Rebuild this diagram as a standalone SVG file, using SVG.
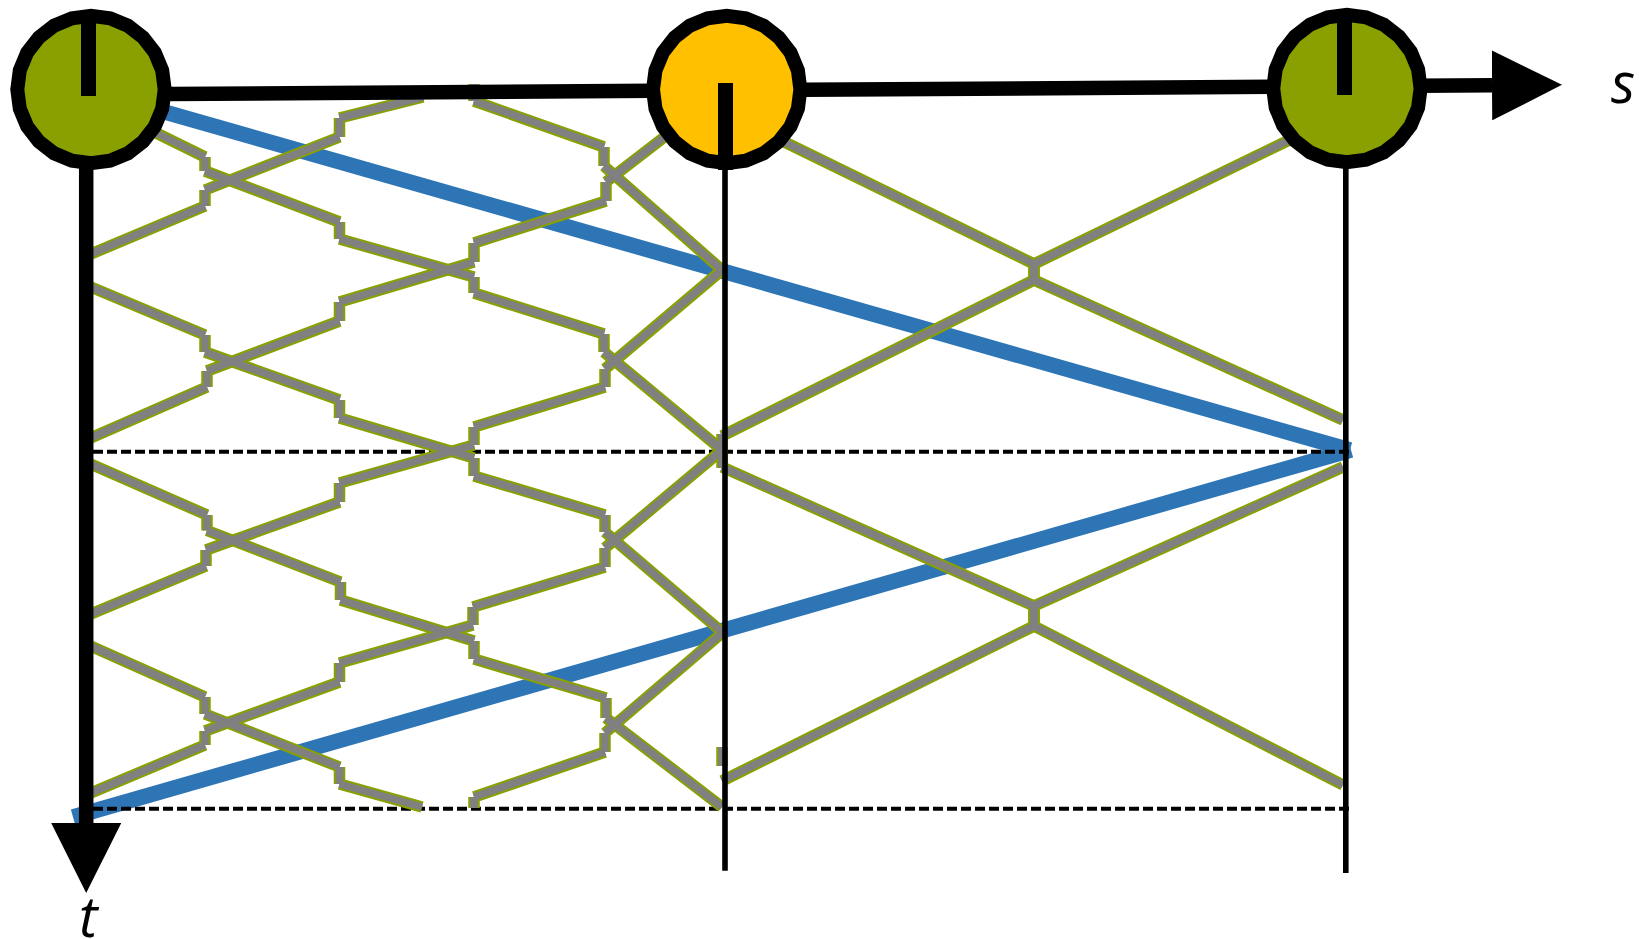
<svg xmlns="http://www.w3.org/2000/svg" xmlns:xlink="http://www.w3.org/1999/xlink" width="1639" height="939" viewBox="0 0 1639 939">
<style>
.bg{fill:#fff}
.blue{fill:none;stroke:#2e75b6;stroke-width:15.5}
.dash{fill:none;stroke:#000;stroke-width:4;stroke-dasharray:10 4}
.ol{fill:none;stroke:#8aa000;stroke-width:11.5}
.gr{fill:none;stroke:#808080;stroke-width:7.5}
.ax{fill:none;stroke:#000;stroke-width:14.5}
.thin{fill:none;stroke:#000;stroke-width:5.6}
.nd{stroke:#000;stroke-width:14}
.tick{fill:#000}
.lbl{font-family:"Open Sans","Noto Sans",sans-serif;font-style:italic;font-size:56px;fill:#000}
</style>
<defs>
<marker id="head" markerUnits="userSpaceOnUse" markerWidth="70" markerHeight="70" refX="0" refY="35" orient="auto" viewBox="0 0 70 70"><path d="M0 0L70 35L0 70Z" fill="#000"/></marker>
<polygon id="disc" points="73.7,0 71.2,19.1 63.8,36.9 52.1,52.1 36.9,63.8 19.1,71.2 0,73.7 -19.1,71.2 -36.9,63.8 -52.1,52.1 -63.8,36.9 -71.2,19.1 -73.7,0 -71.2,-19.1 -63.8,-36.9 -52.1,-52.1 -36.9,-63.8 -19.1,-71.2 0,-73.7 19.1,-71.2 36.9,-63.8 52.1,-52.1 63.8,-36.9 71.2,-19.1"/>
<g id="rays">
<path d="M86 256L205 206M205 206L205 190M205 190L339.5 137M339.5 137L339.5 118M339.5 118L423 97"/>
<path d="M86 440L207 387M207 387L207 371M207 371L339.5 321M339.5 321L339.5 302M339.5 302L474 262M474 262L474 243M474 243L606 201M606 201L606 182M606 182L680 125"/>
<path d="M86 616L206 566M206 566L206 550M206 550L339.5 502M339.5 502L339.5 483M339.5 483L474 445M474 445L474 427M474 427L605 387M605 387L605 369M605 369L722 270"/>
<path d="M86 795L205 745M205 745L205 731M205 731L339.5 682M339.5 682L339.5 663M339.5 663L473 625M473 625L473 607M473 607L605 567M605 567L605 548M605 548L722 450"/>
<path d="M474 808L474 797M474 797L605 752M605 752L605 733M605 733L722 633"/>
<path d="M140 125L205 157M205 157L205 171M205 171L339.5 222M339.5 222L339.5 239M339.5 239L474 277M474 277L474 293M474 293L604 334M604 334L604 352M604 352L722 450"/>
<path d="M474 84L474 101M474 101L604 147M604 147L604 166M604 166L722 270"/>
<path d="M86 285L205 335M205 335L205 352M205 352L339.5 400M339.5 400L339.5 418M339.5 418L474 458M474 458L474 476M474 476L605 515M605 515L605 532M605 532L722 632"/>
<path d="M86 462L207 515M207 515L207 530.5M207 530.5L340.5 582M340.5 582L340.5 600M340.5 600L474 641M474 641L474 659M474 659L606 698M606 698L606 718M606 718L722 807"/>
<path d="M86 644L205 697M205 697L205 714M205 714L339.5 767M339.5 767L339.5 784M339.5 784L422 807"/>
<path d="M760 130L1034 264M1034 264L1034 280M1034 280L1343 420"/>
<path d="M722 436L1034 280M1034 280L1034 264M1034 264L1310 130"/>
<path d="M722 467L1034 606M1034 606L1034 626M1034 626L1343 785"/>
<path d="M722 781L1034 626M1034 626L1034 606M1034 606L1343 467"/>
<path d="M722 434L722 468M722 747L722 766"/>
</g>
</defs>
<rect class="bg" width="1639" height="939"/>
<g id="connectors">
<path class="blue" d="M91 91L1350 450"/>
<path class="blue" d="M1351 450L73 817"/>
<path class="dash" d="M93 451.7H1350"/>
<path class="dash" d="M93 808.7H1350"/>
<use href="#rays" class="ol"/>
<use href="#rays" class="gr"/>
<path class="ax" d="M170 94L1492 85.3" marker-end="url(#head)"/>
<path class="ax" d="M86.2 165V823" marker-end="url(#head)"/>
<path class="thin" d="M725 165V870.7"/>
<path class="thin" d="M1345.8 165V873"/>
</g>
<g id="node-left">
<use href="#disc" class="nd" x="91" y="89.5" fill="#8aa000"/>
<rect class="tick" x="81" y="10" width="15" height="86"/>
</g>
<g id="node-mid">
<use href="#disc" class="nd" x="726.7" y="89.5" fill="#ffc000"/>
<rect class="tick" x="718" y="83" width="15" height="87"/>
</g>
<g id="node-right">
<use href="#disc" class="nd" x="1346.9" y="88.5" fill="#8aa000"/>
<rect class="tick" x="1337" y="9" width="15" height="86"/>
</g>
<text class="lbl" x="79" y="937">t</text>
<text class="lbl" x="1611" y="103">s</text>
</svg>
